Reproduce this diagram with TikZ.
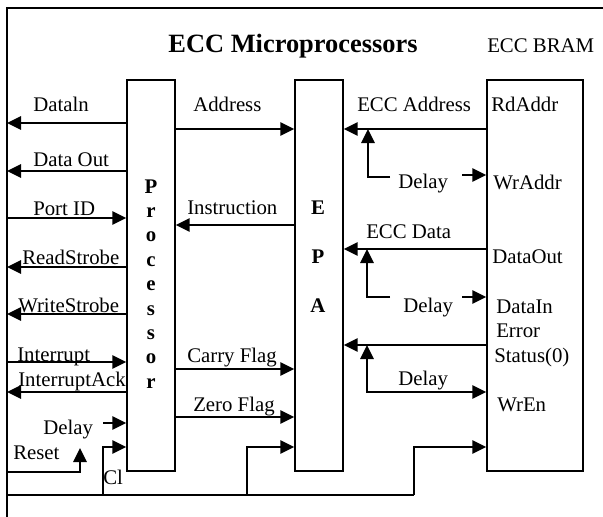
\documentclass[tikz,border=0pt]{standalone}
\usepackage{fontspec}
\setmainfont{Liberation Serif}
\usetikzlibrary{arrows.meta,fit}

\tikzset{
  block/.style={draw, line width=1.1pt, inner sep=0pt},
  wire/.style={line width=1.5pt},
  sig/.style={wire, -{Triangle[length=10.5pt,width=10pt]}},
  dsig/.style={wire, {Triangle[length=10.5pt,width=10pt]}-{Triangle[length=10.5pt,width=10pt]}},
  lbl/.style={anchor=base west, inner sep=0pt, font=\fontsize{15.6pt}{18pt}\selectfont},
  letter/.style={anchor=base, inner sep=0pt, font=\fontsize{15.6pt}{18pt}\selectfont\bfseries},
}

\begin{document}
\begin{tikzpicture}[x=0.75pt,y=-0.75pt]
\useasboundingbox (0,0) rectangle (603,517);

% Frame
\draw[line width=1.3pt] (603,8) -- (7,8) -- (7,517);

% Titles
\node[lbl, anchor=base, font=\fontsize{19.8pt}{22pt}\selectfont\bfseries] (title) at (293,53) {ECC Microprocessors};
\node[lbl] (bramTitle) at (487,53) {ECC BRAM};

% Blocks
\node[block, fit={(127,80) (175,471)}] (proc) {};
\node[block, fit={(295,80) (343,471)}] (epa) {};
\node[block, fit={(487,80) (583,471)}] (bram) {};

% Block letters
\foreach \letr [count=\i from 0] in {P,r,o,c,e,s,s,o,r}
  \node[letter] (proc-\i) at (151,193+24.4*\i) {\letr};
\foreach \letr [count=\i from 0] in {E,P,A}
  \node[letter] (epa-\i) at (318,214+49*\i) {\letr};

% Processor port signals
\coordinate (dataIn) at (7,123);
\coordinate (dataOut) at (7,171);
\coordinate (portId) at (7,218);
\coordinate (readS) at (7,267);
\coordinate (writeS) at (7,314);
\coordinate (intr) at (7,362);
\coordinate (intrAck) at (7,392);
\draw[sig] (proc.west |- dataIn) -- (dataIn);
\draw[sig] (proc.west |- dataOut) -- (dataOut);
\draw[sig] (portId) -- (proc.west |- portId);
\draw[sig] (proc.west |- readS) -- (readS);
\draw[sig] (proc.west |- writeS) -- (writeS);
\draw[sig] (intr) -- (proc.west |- intr);
\draw[sig] (proc.west |- intrAck) -- (intrAck);
\node[lbl] (dataInL) at (33,112) {Dataln};
\node[lbl] (dataOutL) at (33,166) {Data Out};
\node[lbl] (portIdL) at (33,215) {Port ID};
\node[lbl] (readSL) at (22,264) {ReadStrobe};
\node[lbl] (writeSL) at (18,312) {WriteStrobe};
\node[lbl] (intrL) at (17,361) {Interrupt};
\node[lbl] (intrAckL) at (18,386) {InterruptAck};

% Delay, reset and clock
\coordinate (pDly) at (103,423);
\draw[sig] (pDly) -- (proc.west |- pDly);
\node[lbl] (pDlyL) at (43,434) {Delay};
\coordinate (rst) at (7,472);
\coordinate (rstTip) at (80,448);
\draw[sig] (rst) -| (rstTip);
\node[lbl] (rstL) at (13,459) {Reset};
\coordinate (busL) at (7,495);
\coordinate (busR) at (414,495);
\coordinate (clkP) at (103,495);
\coordinate (clkE) at (247,495);
\coordinate (yClk) at (0,447);
\draw[wire] (busL) -- (busR);
\draw[sig] (clkP) |- (proc.west |- yClk);
\draw[sig] (clkE) |- (epa.west |- yClk);
\draw[sig] (busR) |- (bram.west |- yClk);
\node[lbl] (clkL) at (103,484) {Cl};

% Processor - EPA signals
\coordinate (addr) at (0,129);
\coordinate (instr) at (0,225);
\coordinate (carry) at (0,369);
\coordinate (zero) at (0,417);
\draw[sig] (proc.east |- addr) -- (epa.west |- addr);
\draw[sig] (epa.west |- instr) -- (proc.east |- instr);
\draw[sig] (proc.east |- carry) -- (epa.west |- carry);
\draw[sig] (proc.east |- zero) -- (epa.west |- zero);
\node[lbl] (addrL) at (193,111) {Address};
\node[lbl] (instrL) at (187,214) {Instruction};
\node[lbl] (carryL) at (187,362) {Carry Flag};
\node[lbl] (zeroL) at (193,411) {Zero Flag};

% EPA - BRAM signals
\coordinate (tapA) at (368,129);
\coordinate (tapD) at (367,249);
\coordinate (tapS) at (367,345);
\coordinate (dlyA) at (390,177);
\coordinate (dlyAr) at (462,175);
\coordinate (dlyD) at (390,297);
\coordinate (dlyDr) at (462,297);
\coordinate (wrEn) at (0,392);
\draw[sig] (bram.west |- tapA) -- (epa.east |- tapA);
\draw[sig] (dlyA) -| (tapA);
\draw[sig] (dlyAr) -- (bram.west |- dlyAr);
\draw[sig] (bram.west |- tapD) -- (epa.east |- tapD);
\draw[sig] (dlyD) -| (tapD);
\draw[sig] (dlyDr) -- (bram.west |- dlyDr);
\draw[sig] (bram.west |- tapS) -- (epa.east |- tapS);
\draw[dsig] (tapS) |- (bram.west |- wrEn);
\node[lbl] (eccAddrL) at (357,111) {ECC Address};
\node[lbl] (eccDataL) at (366,238) {ECC Data};
\node[lbl] (dlyAL) at (398,188) {Delay};
\node[lbl] (dlyDL) at (403,312) {Delay};
\node[lbl] (dlySL) at (398,385) {Delay};

% BRAM ports
\node[lbl] (rdAddrL) at (491,111) {RdAddr};
\node[lbl] (wrAddrL) at (493,189) {WrAddr};
\node[lbl] (dOutL) at (492,263) {DataOut};
\node[lbl] (dInL) at (496,313) {DataIn};
\node[lbl] (errL) at (496,337) {Error};
\node[lbl] (statL) at (494,362) {Status(0)};
\node[lbl] (wrEnL) at (497,411) {WrEn};

\end{tikzpicture}
\end{document}
